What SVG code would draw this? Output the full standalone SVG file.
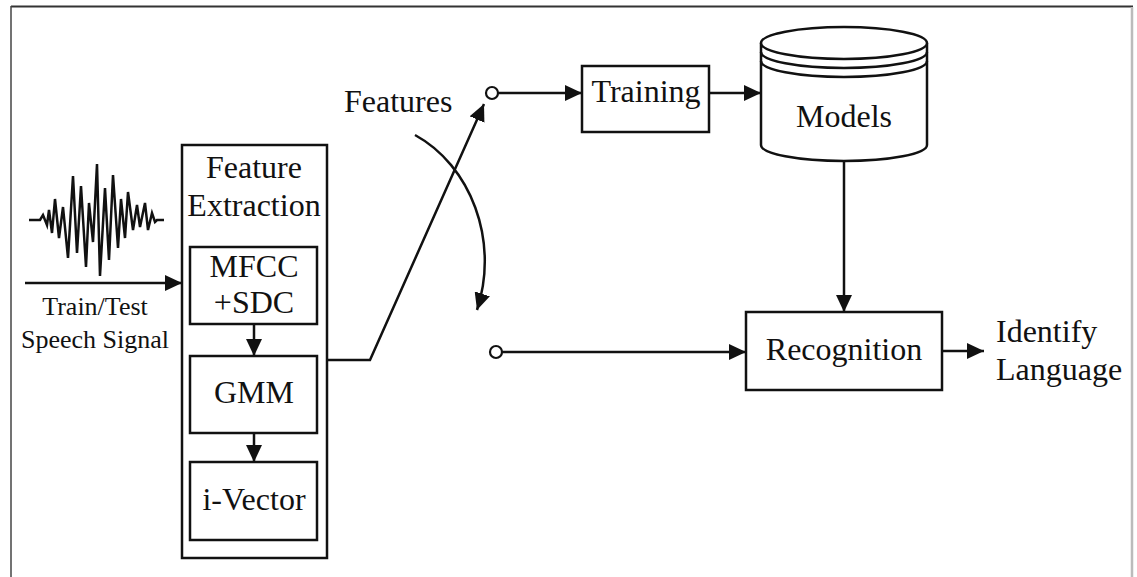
<svg xmlns="http://www.w3.org/2000/svg" width="1137" height="577" viewBox="0 0 1137 577">
<style>
  .ln { fill: none; stroke: #111; stroke-width: 2.5; }
  .box { fill: #fff; stroke: #111; stroke-width: 2.5; }
  .t { font-family: "Liberation Serif", "Times New Roman", serif; font-size: 32px; fill: #111; }
  .tc { text-anchor: middle; }
  .ts { font-size: 26px; }
</style>
<defs>
  <marker id="ah" markerUnits="userSpaceOnUse" markerWidth="18" markerHeight="16" refX="17" refY="8" orient="auto">
    <path d="M0,0 L17,8 L0,16 z" fill="#111"/>
  </marker>
</defs>
<rect width="1137" height="577" fill="#fff"/>
<g id="frame">
  <line x1="11" y1="6.5" x2="1133" y2="6.5" stroke="#333" stroke-width="2"/>
  <line x1="11" y1="6" x2="11" y2="577" stroke="#444" stroke-width="1.5"/>
  <line x1="1132" y1="7" x2="1132" y2="577" stroke="#bbb" stroke-width="2.5"/>
</g>
<g id="signal">
  <polyline class="ln" stroke-width="3" stroke-linejoin="miter" points="29,220 40,220 43,215 47,225 49,210 52,233 55,199 59,238 63,207 68,258 73,176 77,253 81,186 86,267 89,203 93,242 97,164 100,276 105,188 109,260 113,175 118,248 121,199 125,238 128,192 133,230 137,205 140,227 145,203 148,230 152,213 155,222 157,220 164,220"/>
  <text class="t ts tc" x="95" y="315">Train/Test</text>
  <text class="t ts tc" x="95" y="348">Speech Signal</text>
</g>
<g id="feature-extraction">
  <rect class="box" x="182" y="145" width="145" height="413"/>
  <text class="t tc" x="254" y="178">Feature</text>
  <text class="t tc" x="254" y="216">Extraction</text>
</g>
<g id="mfcc">
  <rect class="box" x="190" y="247" width="127" height="77"/>
  <text class="t tc" x="254" y="277">MFCC</text>
  <text class="t tc" x="254" y="313">+SDC</text>
</g>
<g id="gmm">
  <rect class="box" x="190" y="356" width="127" height="77"/>
  <text class="t tc" x="254" y="403">GMM</text>
</g>
<g id="ivector">
  <rect class="box" x="190" y="462" width="127" height="78"/>
  <text class="t tc" x="254" y="510">i-Vector</text>
</g>
<g id="features-label">
  <text class="t" x="344" y="112">Features</text>
</g>
<g id="switch-top">
  <circle cx="492" cy="93" r="6" fill="#fff" stroke="#111" stroke-width="2.2"/>
</g>
<g id="switch-bottom">
  <circle cx="496" cy="352" r="6" fill="#fff" stroke="#111" stroke-width="2.2"/>
</g>
<g id="training">
  <rect class="box" x="582" y="66" width="127" height="66"/>
  <text class="t tc" x="646" y="102">Training</text>
</g>
<g id="models">
  <path class="box" d="M761,43 L761,145 A83,16 0 0 0 927,145 L927,43"/>
  <ellipse class="box" cx="844" cy="43" rx="83" ry="16"/>
  <path class="ln" d="M761,52 A83,16 0 0 0 927,52"/>
  <path class="ln" d="M761,61 A83,16 0 0 0 927,61"/>
  <text class="t tc" x="844" y="127">Models</text>
</g>
<g id="recognition">
  <rect class="box" x="746" y="312" width="196" height="78"/>
  <text class="t tc" x="844" y="360">Recognition</text>
</g>
<g id="output-label">
  <text class="t" x="996" y="342">Identify</text>
  <text class="t" x="996" y="380">Language</text>
</g>
<g id="connectors">
  <line class="ln" x1="25" y1="283" x2="182" y2="283" marker-end="url(#ah)"/>
  <line class="ln" x1="254" y1="324" x2="254" y2="356" marker-end="url(#ah)"/>
  <line class="ln" x1="254" y1="433" x2="254" y2="462" marker-end="url(#ah)"/>
  <polyline class="ln" points="327,360 370,360 484,104" marker-end="url(#ah)"/>
  <path class="ln" d="M415,135 C470,165 500,240 477,310" marker-end="url(#ah)"/>
  <line class="ln" x1="498" y1="93" x2="582" y2="93" marker-end="url(#ah)"/>
  <line class="ln" x1="709" y1="93" x2="761" y2="93" marker-end="url(#ah)"/>
  <line class="ln" x1="844" y1="160" x2="844" y2="312" marker-end="url(#ah)"/>
  <line class="ln" x1="502" y1="352" x2="746" y2="352" marker-end="url(#ah)"/>
  <line class="ln" x1="942" y1="351" x2="984" y2="351" marker-end="url(#ah)"/>
</g>
</svg>
